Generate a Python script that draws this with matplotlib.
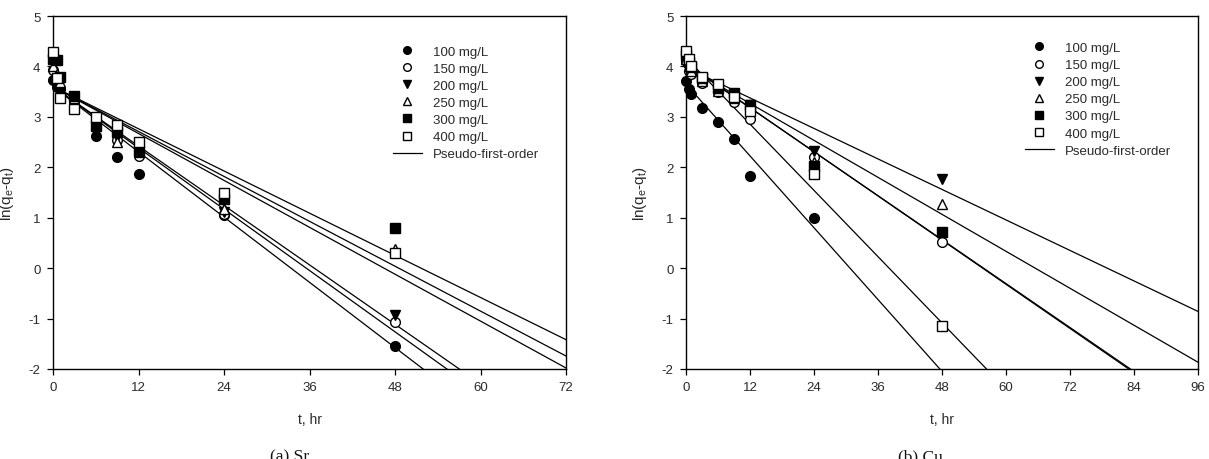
import numpy as np
import matplotlib
matplotlib.use("Agg")
import matplotlib.pyplot as plt
from matplotlib.lines import Line2D

plt.rcParams['font.family'] = ['Liberation Sans', 'DejaVu Sans']
plt.rcParams['mathtext.default'] = 'regular'
plt.rcParams['axes.unicode_minus'] = False

# ---------------- data ----------------
labels = ["100 mg/L", "150 mg/L", "200 mg/L", "250 mg/L", "300 mg/L", "400 mg/L"]
fit_label = "Pseudo-first-order"

t_hr = [0, 0.5, 1, 3, 6, 9, 12, 24, 48]

# (a) Sr : ln(qe - qt)
sr_100 = [3.73, 3.60, 3.55, 3.30, 2.62, 2.20, 1.86, 1.05, -1.54]
sr_150 = [3.92, 3.70, 3.38, 3.30, 2.90, 2.55, 2.23, 1.07, -1.07]
sr_200 = [4.08, 3.55, 3.65, 3.35, 2.75, 2.60, 2.33, 1.12, -0.93]
sr_250 = [4.00, 3.85, 3.70, 3.38, 2.88, 2.50, 2.30, 1.17, 0.38]
sr_300 = [4.14, 4.12, 3.80, 3.41, 2.82, 2.69, 2.33, 1.37, 0.79]
sr_400 = [4.28, 3.78, 3.38, 3.15, 2.99, 2.83, 2.50, 1.50, 0.30]
# pseudo-first-order fits: intercept ln(qe), rate k1 (1/hr)
sr_lnqe = [3.60, 3.60, 3.60, 3.60, 3.60, 3.60]
sr_k1 = [0.1078, 0.1013, 0.0982, 0.0742, 0.0697, 0.0775]

# (b) Cu
cu_100 = [3.71, 3.55, 3.46, 3.17, 2.90, 2.57, 1.83, 0.99, np.nan]
cu_150 = [4.10, 3.90, 3.85, 3.68, 3.50, 3.30, 2.95, 2.20, 0.51]
cu_200 = [4.20, 4.05, 3.95, 3.75, 3.55, 3.42, 3.23, 2.33, 1.76]
cu_250 = [4.15, 4.00, 3.90, 3.72, 3.52, 3.38, 3.15, 2.10, 1.27]
cu_300 = [4.22, 4.08, 3.98, 3.78, 3.58, 3.48, 3.23, 2.03, 0.72]
cu_400 = [4.31, 4.14, 4.00, 3.80, 3.65, 3.39, 3.12, 1.86, -1.14]
cu_lnqe = [3.65, 4.05, 3.98, 4.00, 4.06, 4.17]
cu_k1 = [0.1187, 0.0726, 0.0504, 0.0611, 0.0730, 0.1095]

sr_xticks = [0, 12, 24, 36, 48, 60, 72]
cu_xticks = [0, 12, 24, 36, 48, 60, 72, 84, 96]
yticks = [-2, -1, 0, 1, 2, 3, 4, 5]

# ---------------- styles ----------------
markers = ['o', 'o', 'v', '^', 's', 's']
faces = ['black', 'white', 'black', 'white', 'black', 'white']
msize = 7.0

W, H = 1209, 460
fig = plt.figure(figsize=(W / 100, H / 100), dpi=100)

def px_axes(x0, x1, y0, y1):
    return fig.add_axes([x0 / W, 1 - y1 / H, (x1 - x0) / W, (y1 - y0) / H])

ax1 = px_axes(53, 566, 17, 370)
ax2 = px_axes(686, 1198, 17, 370)

tick_color = '#2a2a2a'

def draw(ax, series, lnqe, k1, xticks, caption, cap_x, leg_top):
    xmax = xticks[-1]
    tt = np.linspace(0, xmax, 400)
    for a, k in zip(lnqe, k1):
        ax.plot(tt, a - k * tt, color='black', lw=0.9, zorder=2)
    for vals, m, fc in zip(series, markers, faces):
        ax.plot(t_hr, vals, linestyle='none', marker=m, markersize=msize,
                markerfacecolor=fc, markeredgecolor='black', markeredgewidth=1.0,
                zorder=3, clip_on=False)
    ax.set_xlim(0, xmax)
    ax.set_ylim(-2, 5)
    ax.set_xticks(xticks)
    ax.set_yticks(yticks)
    ax.tick_params(direction='out', length=4, width=0.9, labelsize=9.5,
                   labelcolor=tick_color, top=False, right=False, pad=5)
    for s in ax.spines.values():
        s.set_linewidth(1.0)
    ax.set_xlabel('t, hr', fontsize=10, color=tick_color, labelpad=13)
    ax.set_ylabel(r'ln(q$_e$-q$_t$)', fontsize=11, color=tick_color, labelpad=9)

    handles = [Line2D([], [], linestyle='none', marker=m, markersize=5.5,
                      markerfacecolor=fc, markeredgecolor='black', markeredgewidth=1.0)
               for m, fc in zip(markers, faces)]
    handles.append(Line2D([], [], color='black', lw=0.9))
    leg = ax.legend(handles, labels + [fit_label], loc='upper left',
                    bbox_to_anchor=(0.662, leg_top), frameon=False, fontsize=9.5,
                    handlelength=2.2, handletextpad=0.85, labelspacing=0.37,
                    borderaxespad=0, borderpad=0)
    for txt in leg.get_texts():
        txt.set_color(tick_color)
    fig.text(cap_x / W, 1 - 457 / H, caption, ha='center', va='center',
             fontsize=12.5, family=['Liberation Serif', 'DejaVu Serif'], color='#111111')

draw(ax1, [sr_100, sr_150, sr_200, sr_250, sr_300, sr_400], sr_lnqe, sr_k1,
     sr_xticks, '(a) Sr', 290, 0.917)
draw(ax2, [cu_100, cu_150, cu_200, cu_250, cu_300, cu_400], cu_lnqe, cu_k1,
     cu_xticks, '(b) Cu', 920, 0.927)

fig.savefig('out.png', dpi=100)
